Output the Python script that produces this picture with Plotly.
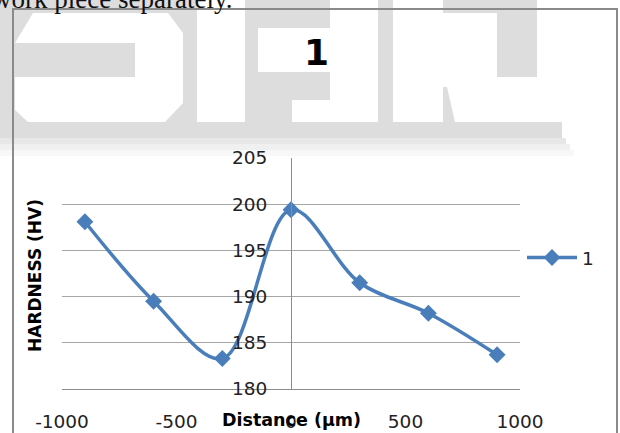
import plotly.graph_objects as go

# Hardness profile across the weld (distance from centre line)
distance_um = [-900, -600, -300, 0, 300, 600, 900]
hardness_hv = [198.1, 189.5, 183.3, 199.4, 191.5, 188.2, 183.7]
series_name = "1"
chart_title = "1"
x_tick_vals = [-1000, -500, 0, 500, 1000]
x_tick_text = ["-1000", "-500", "0", "500", "1000"]
y_tick_vals = [180, 185, 190, 195, 200, 205]
x_title = "Distance (µm)"
y_title = "HARDNESS (HV)"
caption_text = "work piece separately."

FIG_W, FIG_H = 620, 433
M_L, M_R, M_T, M_B = 62, 100, 158, 44
PLOT_W = FIG_W - M_L - M_R
PLOT_H = FIG_H - M_T - M_B

LINE_BLUE = "#4a7ebb"
GRID_GRAY = "#a6a6a6"
AXIS_GRAY = "#8c8c8c"
MARK_GRAY = "#dddddd"
FONT = "DejaVu Sans"


def px_x(px):
    return (px - M_L) / PLOT_W


def px_y(py):
    return (FIG_H - M_B - py) / PLOT_H


def rect(x0, x1, y0, y1, color, opacity=1.0):
    return dict(type="rect", xref="paper", yref="paper",
                x0=px_x(x0), x1=px_x(x1), y0=px_y(y1), y1=px_y(y0),
                fillcolor=color, opacity=opacity, line_width=0, layer="below")


def poly(points, color):
    d = "M" + "L".join(f"{px_x(x):.5f},{px_y(y):.5f}" for x, y in points) + "Z"
    return dict(type="path", xref="paper", yref="paper", path=d,
                fillcolor=color, line_width=0, layer="below")


# Page watermark behind the chart (large knocked-out letters on a gray band)
shapes = [
    rect(0, 560, -5, 122, MARK_GRAY),
    rect(0, 562, 122, 138, MARK_GRAY),
    rect(0, 566, 138, 144, MARK_GRAY, 0.7),
    rect(0, 570, 144, 150, MARK_GRAY, 0.45),
    rect(0, 574, 150, 156, MARK_GRAY, 0.2),
    poly([(33, 13), (168, 13), (183, 33), (183, 103), (165, 122), (28, 122),
          (15, 110), (15, 77), (135, 77), (135, 43), (15, 43)], "white"),
    rect(197, 245, -5, 122, "white"),
    rect(258, 330, 28, 72, "white"),
    rect(292, 330, 100, 122, "white"),
    rect(330, 378, -5, 122, "white"),
    rect(393, 443, -5, 122, "white"),
    rect(443, 497, 13, 77, "white"),
    poly([(443, 77), (580, 77), (580, 122), (455, 122), (447, 87), (443, 87)], "white"),
    rect(537, 620, -5, 122, "white"),
    # chart frame
    dict(type="rect", xref="paper", yref="paper",
         x0=px_x(13), x1=px_x(617), y0=px_y(460), y1=px_y(9),
         line=dict(color="#8a8a8a", width=2), fillcolor="rgba(0,0,0,0)", layer="below"),
]

fig = go.Figure()
fig.add_trace(go.Scatter(
    x=distance_um, y=hardness_hv, name=series_name,
    mode="lines+markers",
    line=dict(color=LINE_BLUE, width=3.5, shape="spline", smoothing=1.0),
    marker=dict(symbol="diamond", size=13, color=LINE_BLUE, line=dict(width=0)),
))

annotations = [
    dict(text=caption_text, xref="paper", yref="paper", x=px_x(-10), y=px_y(-1),
         xanchor="left", yanchor="middle", showarrow=False,
         font=dict(family="Liberation Serif", size=27, color="#111111")),
    dict(text=f"<b>{chart_title}</b>", xref="paper", yref="paper", x=px_x(316), y=px_y(52),
         xanchor="center", yanchor="middle", showarrow=False,
         font=dict(family=FONT, size=36, color="#000000")),
    dict(text=f"<b>{y_title}</b>", xref="paper", yref="paper", x=px_x(35), y=px_y(276),
         xanchor="center", yanchor="middle", textangle=-90, showarrow=False,
         font=dict(family=FONT, size=17, color="#000000")),
    dict(text=f"<b>{x_title}</b>", xref="x", yref="paper", x=0, y=px_y(420),
         xanchor="center", yanchor="middle", showarrow=False,
         font=dict(family=FONT, size=17.5, color="#000000")),
]

fig.update_layout(
    width=FIG_W, height=FIG_H,
    margin=dict(l=M_L, r=M_R, t=M_T, b=M_B, autoexpand=False),
    paper_bgcolor="white", plot_bgcolor="rgba(0,0,0,0)",
    font=dict(family=FONT, size=18.5, color="#222222"),
    shapes=shapes, annotations=annotations,
    showlegend=True,
    legend=dict(x=px_x(522), y=px_y(258), xanchor="left", yanchor="middle",
                bgcolor="rgba(0,0,0,0)", itemwidth=50,
                font=dict(family=FONT, size=18.5, color="#222222")),
    xaxis=dict(range=[-1000, 1000], tickvals=x_tick_vals, ticktext=x_tick_text,
               showgrid=False, zeroline=False, showline=True, linecolor=AXIS_GRAY,
               linewidth=1, ticks="", ticklabelstandoff=16, fixedrange=True),
    yaxis=dict(range=[180, 205], tickvals=y_tick_vals, anchor="free", position=0.5,
               showgrid=True, gridcolor=GRID_GRAY, gridwidth=1, zeroline=False,
               showline=True, linecolor=AXIS_GRAY, linewidth=1,
               ticks="", ticklabelstandoff=20, fixedrange=True),
)

fig.write_html("out.html")
